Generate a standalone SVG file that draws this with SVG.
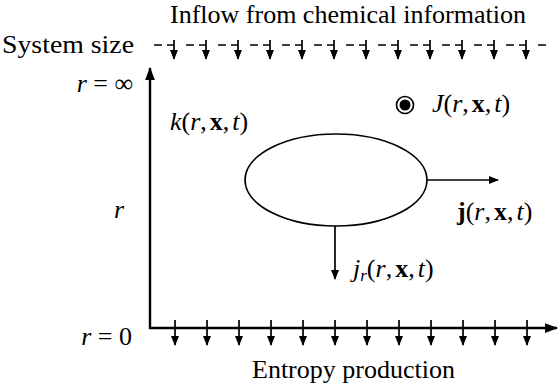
<svg xmlns="http://www.w3.org/2000/svg" width="560" height="388" viewBox="0 0 560 388">
<style>
text{font-family:"Liberation Serif","Times New Roman",serif;font-size:26px;fill:#000}
.i{font-style:italic}
.b{font-weight:bold}
.ln{stroke:#000;stroke-width:1.7;fill:none}
.ax{stroke:#000;stroke-width:2.4;fill:none}
.dash{stroke:#000;stroke-width:1.6;stroke-dasharray:8 5 7 12;fill:none}
</style>
<defs>
<marker id="ah" viewBox="0 0 10 10" refX="9" refY="5" markerWidth="10" markerHeight="10" markerUnits="userSpaceOnUse" orient="auto">
<path d="M0,1 L10,5 L0,9 Z" fill="#000"/>
</marker>
<marker id="ahb" viewBox="0 0 12 10" refX="11" refY="5" markerWidth="13" markerHeight="11" markerUnits="userSpaceOnUse" orient="auto">
<path d="M0,0.5 L12,5 L0,9.5 Z" fill="#000"/>
</marker>
<g id="tarr"><line x1="0" y1="40" x2="0" y2="59" class="ln" marker-end="url(#ah)"/></g>
<g id="barr"><line x1="0" y1="320" x2="0" y2="345" class="ln" marker-end="url(#ah)"/></g>
</defs>
<g id="labels">
<text x="170" y="23" textLength="356" lengthAdjust="spacingAndGlyphs">Inflow from chemical information</text>
<text x="2" y="53" textLength="132" lengthAdjust="spacingAndGlyphs">System size</text>
<text x="133" y="92" text-anchor="end"><tspan class="i">r</tspan> = ∞</text>
<text x="114" y="218"><tspan class="i">r</tspan></text>
<text x="132" y="345" text-anchor="end"><tspan class="i">r</tspan> = 0</text>
<text x="252" y="378">Entropy production</text>
</g>
<g id="connectors">
<line x1="154" y1="45" x2="546" y2="45" class="dash"/>
<use href="#tarr" x="174"/><use href="#tarr" x="206"/><use href="#tarr" x="238"/><use href="#tarr" x="270"/>
<use href="#tarr" x="302"/><use href="#tarr" x="334"/><use href="#tarr" x="366"/><use href="#tarr" x="398"/>
<use href="#tarr" x="430"/><use href="#tarr" x="462"/><use href="#tarr" x="494"/><use href="#tarr" x="526"/>
<line x1="150" y1="329" x2="150" y2="68" class="ax" marker-end="url(#ahb)"/>
<line x1="149" y1="328" x2="557" y2="328" class="ax" marker-end="url(#ahb)"/>
<use href="#barr" x="175"/><use href="#barr" x="207"/><use href="#barr" x="239"/><use href="#barr" x="271"/>
<use href="#barr" x="303"/><use href="#barr" x="335"/><use href="#barr" x="367"/><use href="#barr" x="399"/>
<use href="#barr" x="431"/><use href="#barr" x="463"/><use href="#barr" x="495"/><use href="#barr" x="527"/>
<line x1="427" y1="180" x2="498" y2="180" class="ln" marker-end="url(#ah)"/>
<line x1="335" y1="226" x2="335" y2="279" class="ln" marker-end="url(#ah)"/>
</g>
<g id="node-k">
<ellipse cx="336" cy="180" rx="91" ry="46" class="ln"/>
<text x="170" y="130"><tspan class="i">k</tspan>(<tspan class="i">r</tspan>,<tspan class="b" dx="3">x</tspan>,<tspan class="i" dx="3">t</tspan>)</text>
</g>
<g id="node-J">
<circle cx="405" cy="105" r="8.5" class="ln"/>
<circle cx="405" cy="105" r="5.5" fill="#000"/>
<text x="432" y="112"><tspan class="i">J</tspan>(<tspan class="i">r</tspan>,<tspan class="b" dx="3">x</tspan>,<tspan class="i" dx="3">t</tspan>)</text>
</g>
<g id="label-j">
<text x="457" y="220"><tspan class="b">j</tspan>(<tspan class="i">r</tspan>,<tspan class="b" dx="3">x</tspan>,<tspan class="i" dx="3">t</tspan>)</text>
</g>
<g id="label-jr">
<text x="353" y="277"><tspan class="i">j</tspan><tspan class="i" font-size="17" dy="4">r</tspan><tspan dy="-4">(</tspan><tspan class="i">r</tspan>,<tspan class="b" dx="3">x</tspan>,<tspan class="i" dx="3">t</tspan>)</text>
</g>
</svg>
